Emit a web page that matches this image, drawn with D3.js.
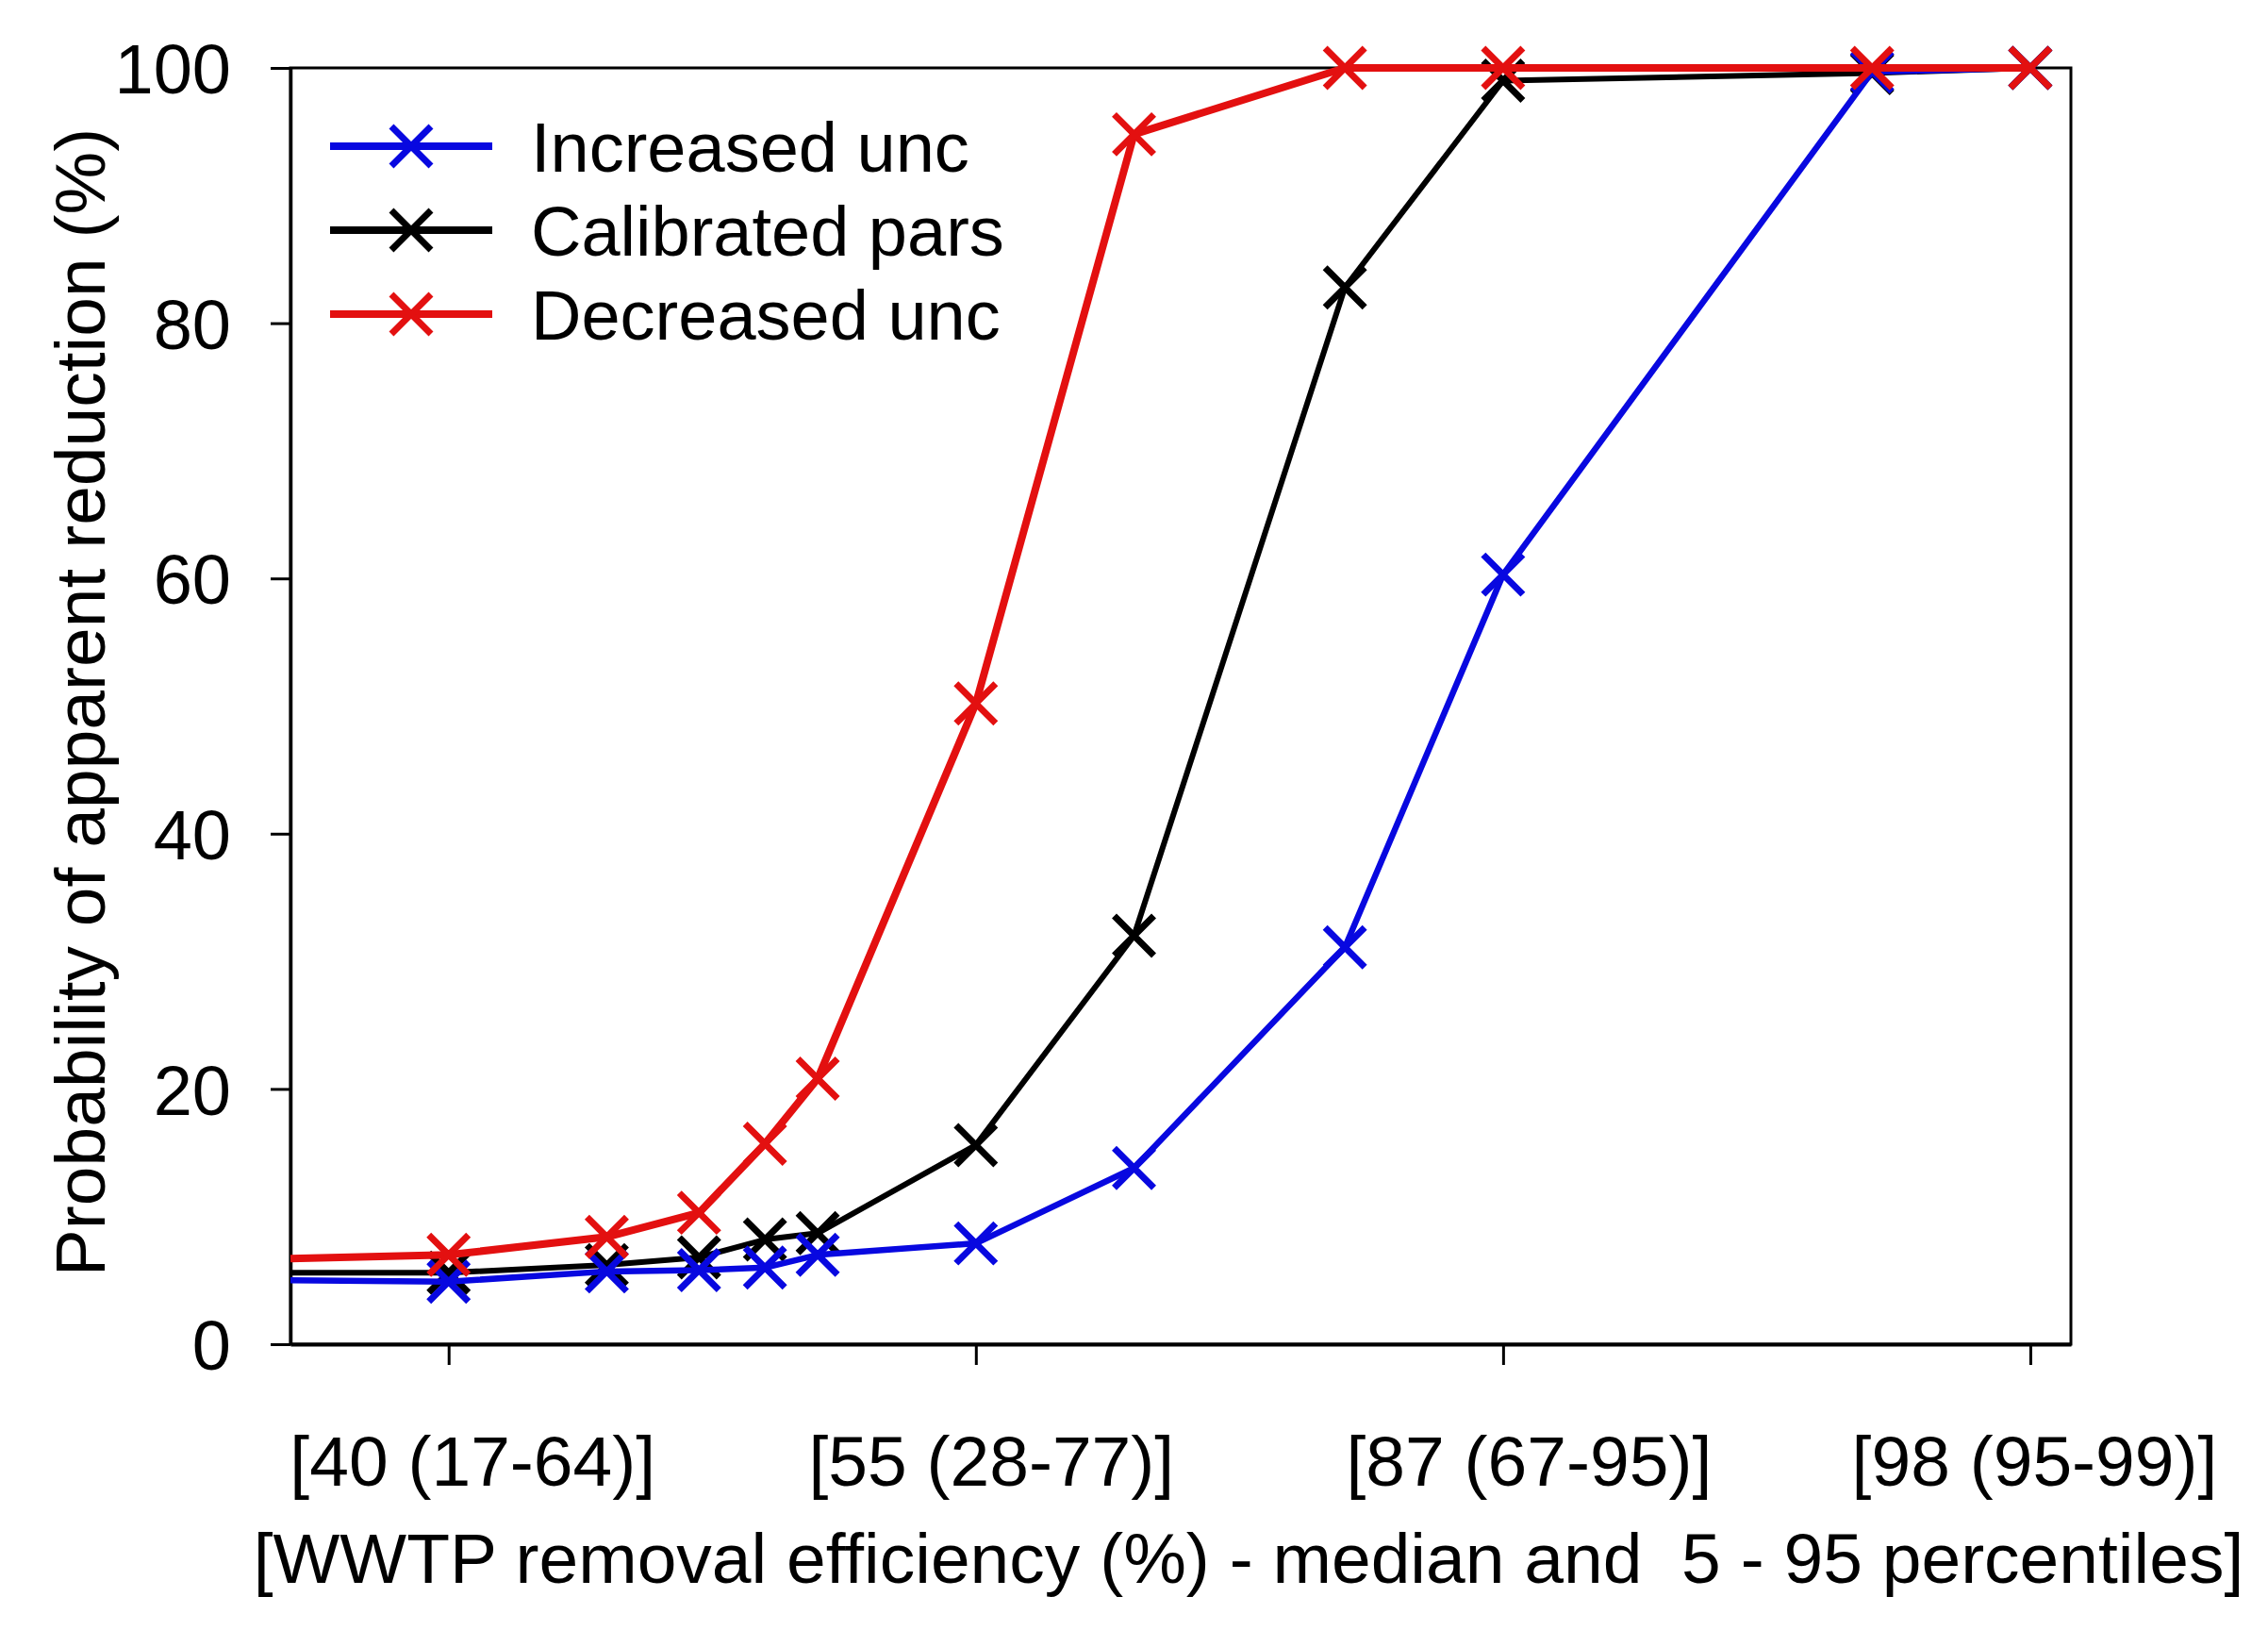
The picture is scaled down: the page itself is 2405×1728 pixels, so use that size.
<!DOCTYPE html>
<html>
<head>
<meta charset="utf-8">
<script src="https://cdn.jsdelivr.net/npm/d3@7"></script>
<style>
  html, body { margin: 0; padding: 0; background: #fff; }
  svg { display: block; }
  text { font-family: "Liberation Sans", Arial, sans-serif; fill: #000; }
</style>
</head>
<body>
<svg id="chart" width="2405" height="1728"></svg>
<script>
// ---- data ----
const tickLabels = ["[40 (17-64)]", "[55 (28-77)]", "[87 (67-95)]", "[98 (95-99)]"];
const tickPositions = [0, 1, 2, 3];
const xPositions = [-0.3, 0, 0.3, 0.475, 0.6, 0.7, 1, 1.3, 1.7, 2, 2.7, 3];
const increasedUnc = [5.0, 4.9, 5.7, 5.8, 6.0, 7.0, 7.9, 13.8, 31.1, 60.3, 99.7, 100];
const calibratedPars = [5.6, 5.6, 6.2, 6.8, 8.2, 8.7, 15.6, 32.0, 82.8, 99.0, 99.6, 100];
const decreasedUnc = [6.7, 7.0, 8.4, 10.3, 15.7, 20.8, 50.2, 94.8, 100, 100, 100, 100];
const seriesNames = ["Increased unc", "Calibrated pars", "Decreased unc"];
const yTicks = [0, 20, 40, 60, 80, 100];
const xTitle = "[WWTP removal efficiency (%) - median and  5 - 95 percentiles]";
const yTitle = "Probability of apparent reduction (%)";

// ---- layout ----
const pL = 308, pR = 2196, pT = 72, pB = 1425;
const colors = { "Increased unc": "#0808e0", "Calibrated pars": "#000000", "Decreased unc": "#e31010" };
const widths = { "Increased unc": 6.5, "Calibrated pars": 6, "Decreased unc": 8 };
const labelShift = [25, 16, 27, 4];
const FS = 74;

const svg = d3.select("#chart");
const x = d3.scaleLinear().domain([-0.3, 3.077]).range([pL, pR]);
const y = d3.scaleLinear().domain([0, 100]).range([pB, pT]);

// frame
svg.append("rect").attr("x", pL).attr("y", pT).attr("width", pR - pL).attr("height", pB - pT)
  .attr("fill", "none").attr("stroke", "#000").attr("stroke-width", 3);

// y axis
const yAxis = svg.append("g").attr("transform", `translate(${pL},0)`)
  .call(d3.axisLeft(y).tickValues(yTicks).tickSizeInner(21).tickSizeOuter(0).tickPadding(42).tickFormat(d3.format("d")));
yAxis.select(".domain").attr("stroke-width", 3.5);
yAxis.selectAll(".tick line").attr("stroke-width", 3);
yAxis.selectAll(".tick text").attr("font-size", FS).attr("font-family", "Liberation Sans, Arial, sans-serif").attr("dy", "0.36em");

// x axis
const xAxis = svg.append("g").attr("transform", `translate(0,${pB})`)
  .call(d3.axisBottom(x).tickValues(tickPositions).tickSizeInner(22).tickSizeOuter(0).tickFormat((d, i) => tickLabels[i]));
xAxis.select(".domain").attr("stroke-width", 4);
xAxis.selectAll(".tick line").attr("stroke-width", 3);
xAxis.selectAll(".tick text").attr("font-size", 75).attr("font-family", "Liberation Sans, Arial, sans-serif")
  .attr("dy", 0).attr("y", 150).attr("x", (d, i) => labelShift[i]);

// axis titles
svg.append("text").attr("x", 1324).attr("y", 1678).attr("text-anchor", "middle")
  .attr("font-size", 75).style("white-space", "pre").text(xTitle);
svg.append("text").attr("transform", `translate(111,${(pT + pB) / 2 - 4}) rotate(-90)`)
  .attr("text-anchor", "middle").attr("font-size", 75).text(yTitle);

// series
const seriesData = { "Increased unc": increasedUnc, "Calibrated pars": calibratedPars, "Decreased unc": decreasedUnc };
const drawOrder = ["Calibrated pars", "Increased unc", "Decreased unc"];
const line = d3.line().x(d => x(d[0])).y(d => y(d[1]));
const M = 21;
function cross(g, cx, cy, color, sw) {
  g.append("path").attr("d", `M${cx - M},${cy - M}L${cx + M},${cy + M}M${cx - M},${cy + M}L${cx + M},${cy - M}`)
    .attr("stroke", color).attr("stroke-width", sw).attr("fill", "none");
}
drawOrder.forEach(name => {
  const pts = xPositions.map((xv, i) => [xv, seriesData[name][i]]);
  const g = svg.append("g");
  g.append("path").datum(pts).attr("d", line).attr("fill", "none")
    .attr("stroke", colors[name]).attr("stroke-width", widths[name]).attr("stroke-linejoin", "round");
  pts.filter(p => p[0] >= 0).forEach(p => cross(g, x(p[0]), y(p[1]), colors[name], 7));
});

// legend
const legY = [155, 244, 333];
seriesNames.forEach((name, i) => {
  const g = svg.append("g");
  g.append("line").attr("x1", 350).attr("x2", 522).attr("y1", legY[i]).attr("y2", legY[i])
    .attr("stroke", colors[name]).attr("stroke-width", 8);
  cross(g, 436, legY[i], colors[name], 7);
  g.append("text").attr("x", 563).attr("y", legY[i]).attr("dy", "0.36em").attr("font-size", FS).text(name);
});
</script>
</body>
</html>
